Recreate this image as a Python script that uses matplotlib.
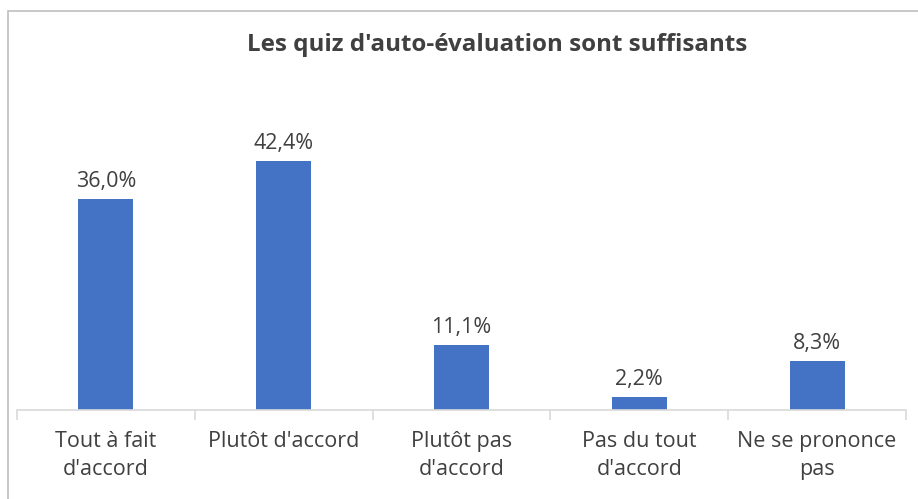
import matplotlib.pyplot as plt
from matplotlib.patches import Rectangle

categories = ["Tout à fait\nd'accord", "Plutôt d'accord", "Plutôt pas\nd'accord",
              "Pas du tout\nd'accord", "Ne se prononce\npas"]
values = [36.0, 42.4, 11.1, 2.2, 8.3]
labels = ["36,0%", "42,4%", "11,1%", "2,2%", "8,3%"]
title = "Les quiz d'auto-évaluation sont suffisants"

plt.rcParams['font.family'] = ['Open Sans', 'DejaVu Sans']
txt = '#404040'

fig = plt.figure(figsize=(9.18, 4.99), dpi=100)
fig.patches.append(Rectangle((8/918, -0.1), 1, 1.1 - 11/499, transform=fig.transFigure,
                             fill=False, edgecolor='#BFBFBF', linewidth=1.2))
ax = fig.add_axes([17/918, 1 - 410/499, 889/918, 293.6/499])

x = range(len(values))
bars = ax.bar(x, values, width=0.31, color='#4472C4')
for b, lab in zip(bars, labels):
    ax.annotate(lab, (b.get_x() + b.get_width()/2, b.get_height()), xytext=(0, 5),
                textcoords='offset points', ha='center', va='bottom', fontsize=15.5, color=txt)

ax.set_xlim(-0.5, len(values) - 0.5)
ax.set_ylim(0, 50)
ax.set_yticks([])
for s in ['top', 'right', 'left']:
    ax.spines[s].set_visible(False)
ax.spines['bottom'].set_color('#D9D9D9')
ax.spines['bottom'].set_linewidth(1.2)
ax.set_xticks(x)
ax.set_xticklabels(categories, fontsize=15.5, color=txt, linespacing=1.45)
ax.tick_params(axis='x', length=0, pad=15)
ax.set_xticks([i + 0.5 for i in range(-1, len(values))], minor=True)
ax.tick_params(axis='x', which='minor', length=7, color='#D9D9D9', width=1.2)

fig.text(497/918, 1 - 45/499, title, ha='center', va='center', fontsize=17.4,
         fontweight='bold', color=txt)

fig.savefig('out.png', dpi=100)
